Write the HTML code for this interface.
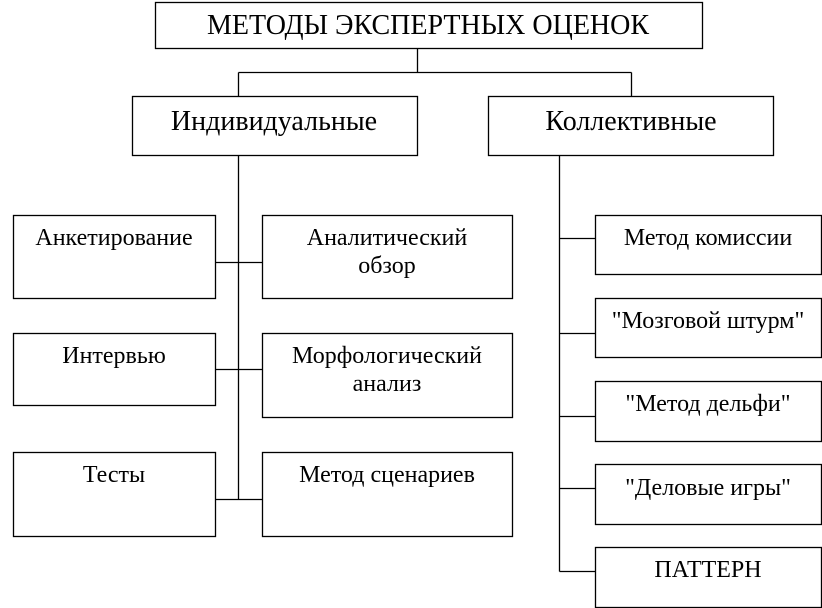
<!DOCTYPE html>
<html><head><meta charset="utf-8"><style>
html,body{margin:0;padding:0;background:#fff;width:822px;height:608px;overflow:hidden}
svg text{font-family:"Liberation Serif",serif;fill:#000}
</style></head><body>
<svg width="822" height="608" viewBox="0 0 822 608" xmlns="http://www.w3.org/2000/svg">
<g fill="#fff" stroke="#000" stroke-width="1.3">
<rect x="155.5" y="2.5" width="547" height="46"/>
<rect x="132.5" y="96.5" width="285" height="59"/>
<rect x="488.5" y="96.5" width="285" height="59"/>
<rect x="13.5" y="215.5" width="202" height="83"/>
<rect x="13.5" y="333.5" width="202" height="72"/>
<rect x="13.5" y="452.5" width="202" height="84"/>
<rect x="262.5" y="215.5" width="250" height="83"/>
<rect x="262.5" y="333.5" width="250" height="84"/>
<rect x="262.5" y="452.5" width="250" height="84"/>
<rect x="595.5" y="215.5" width="226" height="59"/>
<rect x="595.5" y="298.5" width="226" height="59"/>
<rect x="595.5" y="381.5" width="226" height="60"/>
<rect x="595.5" y="464.5" width="226" height="60"/>
<rect x="595.5" y="547.5" width="226" height="60"/>
</g>
<g stroke="#000" stroke-width="1.3" fill="none">
<path d="M417.5 48.5V72.5M238.5 72.5H631.5M238.5 72.5V96.5M631.5 72.5V96.5"/>
<path d="M238.5 155.5V499.5M215.5 262.5H262.5M215.5 369.5H262.5M215.5 499.5H262.5"/>
<path d="M559.5 155.5V571.5M559.5 238.5H595.5M559.5 333.5H595.5M559.5 416.5H595.5M559.5 488.5H595.5M559.5 571.5H595.5"/>
</g>
<g text-anchor="middle">
<text x="428" y="34" font-size="28">МЕТОДЫ ЭКСПЕРТНЫХ ОЦЕНОК</text>
<text x="274" y="130" font-size="28">Индивидуальные</text>
<text x="631" y="130" font-size="28">Коллективные</text>
<g font-size="24">
<text x="114" y="245">Анкетирование</text>
<text x="114" y="363">Интервью</text>
<text x="114" y="482">Тесты</text>
<text x="387" y="245">Аналитический</text>
<text x="387" y="273">обзор</text>
<text x="387" y="363">Морфологический</text>
<text x="387" y="391">анализ</text>
<text x="387" y="482">Метод сценариев</text>
<text x="708" y="245">Метод комиссии</text>
<text x="708" y="328">"Мозговой штурм"</text>
<text x="708" y="411">"Метод дельфи"</text>
<text x="708" y="495">"Деловые игры"</text>
<text x="708" y="577">ПАТТЕРН</text>
</g></g>
</svg>
</body></html>
